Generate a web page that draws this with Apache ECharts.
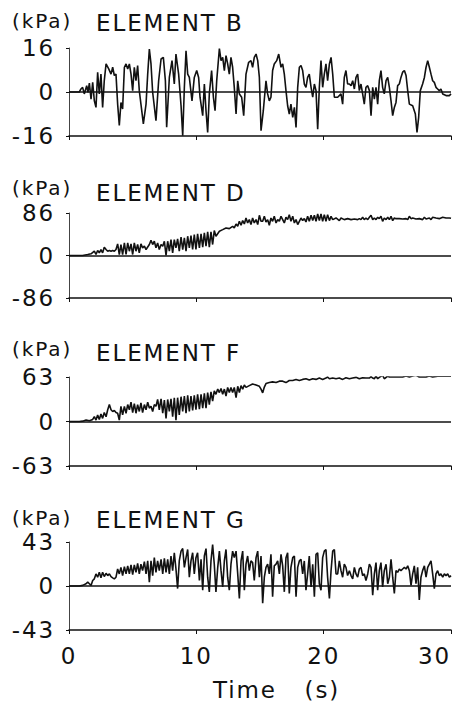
<!DOCTYPE html>
<html>
<head>
<meta charset="utf-8">
<script src="https://cdn.jsdelivr.net/npm/echarts@6/dist/echarts.min.js"></script>
<style>
  html, body { margin: 0; padding: 0; background: #fff; }
  #chart { width: 459px; height: 709px; }
  #chart text { letter-spacing: 1.9px; }
</style>
</head>
<body>
<div id="chart"></div>
<script>
// pressure histories, [time (s), pressure (kPa)]
const elementB = [
  [0,0],[0.81,0],[0.94,1.1],[1.07,1.7],[1.2,-0.7],[1.39,2.3],[1.49,-0.1],[1.6,3.2],[1.73,-2.6],[1.86,3.5],
  [1.99,-3.2],[2.12,-5.6],[2.25,7.2],[2.38,-0.7],[2.51,6.5],[2.64,-5.6],[2.77,4.1],[2.91,10.2],[3.12,8.4],[3.3,6.5],
  [3.43,9],[3.56,6],[3.69,6.5],[3.82,-4.4],[3.95,-12.2],[4.08,-3.8],[4.21,-6.2],[4.35,9],[4.48,10.2],[4.61,8.4],
  [4.74,10.2],[4.87,6.5],[5,0.5],[5.13,9],[5.26,4.1],[5.39,9.6],[5.52,0.5],[5.65,-4.4],[5.84,-11.6],[6.05,-4.4],
  [6.18,6.5],[6.31,15.6],[6.44,10.2],[6.57,-0.1],[6.83,-10.4],[7.04,4.1],[7.23,12],[7.41,12.6],[7.57,4.1],[7.67,-12.8],
  [7.88,5.3],[8.09,11.4],[8.27,2.9],[8.4,13.8],[8.61,6.5],[8.8,-5],[8.93,-15.9],[9.06,1.7],[9.19,15],[9.32,6.5],
  [9.45,5.3],[9.66,-3.2],[9.84,5.3],[10.03,7.8],[10.18,5.3],[10.29,-1.9],[10.5,-8.6],[10.63,2.9],[10.76,-6.8],[10.89,-14.7],
  [11.02,-0.7],[11.2,7.8],[11.34,-1.9],[11.47,-6.8],[11.6,4.1],[11.81,15.8],[11.94,11.4],[12.07,12.6],[12.2,7.8],[12.33,13.2],
  [12.46,10.2],[12.59,6.5],[12.72,12.6],[12.85,9],[12.98,1.7],[13.12,-8],[13.25,4.1],[13.38,-0.7],[13.56,-1.9],[13.72,-8.6],
  [13.9,6.5],[14.11,10.8],[14.29,11.4],[14.42,9],[14.55,12.6],[14.69,13.8],[14.82,11.4],[14.95,5.3],[15.08,-14.1],[15.26,-6.8],
  [15.47,4.1],[15.6,-0.7],[15.73,-3.2],[15.86,-1.9],[15.99,7.8],[16.12,10.2],[16.31,11.4],[16.47,13.8],[16.65,9],[16.78,10.2],
  [16.91,6.5],[17.04,0.5],[17.17,-5],[17.3,-8],[17.43,-4.4],[17.57,-9.2],[17.7,-5.6],[17.83,-12.9],[17.96,1.7],[18.09,9],
  [18.22,9.6],[18.35,7.8],[18.48,2.9],[18.61,1.7],[18.74,5.3],[18.87,6.5],[19.01,1.7],[19.14,-1.9],[19.27,2.9],[19.4,0.5],
  [19.53,-13.5],[19.66,1.7],[19.79,11.4],[19.92,1.7],[20.05,6.5],[20.18,10.2],[20.31,4.1],[20.45,10.2],[20.58,12.6],[20.71,6.5],
  [20.84,-1.9],[21.1,-1.9],[21.36,-0.7],[21.49,-4.4],[21.62,5.3],[21.75,7.8],[21.88,2.9],[22.02,2.9],[22.15,2.3],[22.28,4.1],
  [22.41,1.1],[22.54,5.3],[22.67,6.5],[22.8,0.5],[22.93,2.9],[23.06,-0.7],[23.19,-4.4],[23.32,1.7],[23.46,2.3],[23.59,0.5],
  [23.72,-8.6],[23.85,1.7],[23.98,-2.6],[24.11,1.7],[24.24,-4.4],[24.37,4.1],[24.5,7.8],[24.63,1.7],[24.76,-0.7],[24.9,4.1],
  [25.03,5.3],[25.16,1.7],[25.29,-3.2],[25.42,-8.6],[25.55,-5.6],[25.68,-3.8],[25.81,2.3],[25.94,2.9],[26.07,5.3],[26.2,7.2],
  [26.34,7.8],[26.47,6],[26.6,0.5],[26.73,-4.4],[26.99,-5],[27.2,-8],[27.33,-14.7],[27.46,-9.2],[27.59,0.5],[27.77,2.9],
  [27.91,5.3],[28.04,9],[28.17,11.4],[28.3,9],[28.43,6.5],[28.56,4.1],[28.69,3.5],[28.82,1.7],[28.95,1.1],[29.08,0.5],
  [29.21,1.1],[29.35,-0.7],[29.61,-1.3],[29.87,-1.3],[30,-0.7]
];

const elementD = [
  [0,0],[1.07,0],[1.47,2],[1.73,3.4],[1.99,8.7],[2.12,2],[2.25,10.1],[2.38,5.4],[2.51,12.1],[2.64,5.4],
  [2.77,16.8],[2.91,12.1],[3.04,8.7],[3.17,10.1],[3.3,8.7],[3.43,10.1],[3.56,8.7],[3.69,12.1],[3.82,23.5],[3.95,2],
  [4.08,22.2],[4.21,2],[4.35,25.5],[4.48,2],[4.61,25.5],[4.74,8.7],[4.87,23.5],[5,2],[5.13,25.5],[5.26,8.7],
  [5.39,22.2],[5.52,5.4],[5.65,23.5],[5.78,15.5],[5.92,18.8],[6.05,12.1],[6.31,22.2],[6.44,30.9],[6.57,22.2],[6.7,28.9],
  [6.83,15.5],[6.96,25.5],[7.09,12.1],[7.23,22.2],[7.36,18.8],[7.49,28.9],[7.62,0],[7.75,28.9],[7.88,8.7],[8.01,32.3],
  [8.14,5.4],[8.27,32.3],[8.4,15.5],[8.53,33.6],[8.66,8.7],[8.8,37],[8.93,12.1],[9.06,35.6],[9.19,8.7],[9.32,39],
  [9.45,15.5],[9.58,40.3],[9.71,12.1],[9.84,42.3],[9.97,12.1],[10.1,43.7],[10.24,15.5],[10.37,43.7],[10.5,16.8],[10.63,45.7],
  [10.76,18.8],[10.89,47.7],[11.02,16.8],[11.15,47.7],[11.28,22.2],[11.41,50.4],[11.54,39],[11.81,49.1],[12.07,52.4],[12.33,55.8],
  [12.59,54.4],[12.85,59.1],[12.98,55.8],[13.12,63.8],[13.25,59.1],[13.38,69.2],[13.51,61.2],[13.64,70.6],[13.77,63.8],[13.9,75.9],
  [14.03,65.9],[14.16,72.6],[14.29,62.5],[14.42,75.9],[14.55,65.9],[14.69,72.6],[14.82,62.5],[14.95,81.3],[15.08,69.2],[15.21,69.2],
  [15.34,79.3],[15.47,67.9],[15.6,72.6],[15.73,61.2],[15.86,75.9],[15.99,69.2],[16.12,79.3],[16.26,65.9],[16.39,72.6],[16.52,69.2],
  [16.65,79.3],[16.78,72.6],[16.91,65.9],[17.04,77.3],[17.17,72.6],[17.3,82.7],[17.43,69.2],[17.57,79.3],[17.7,65.9],[17.83,72.6],
  [17.96,62.5],[18.09,69.2],[18.22,75.9],[18.35,70.6],[18.48,74.6],[18.61,67.9],[18.74,79.3],[18.87,69.2],[19.01,81.3],[19.14,70.6],
  [19.27,81.3],[19.4,69.2],[19.53,84],[19.66,70.6],[19.79,84],[19.92,69.2],[20.05,82.7],[20.18,69.2],[20.31,82.7],[20.45,70.6],
  [20.58,79.3],[20.71,72.6],[20.97,75.9],[21.23,70.6],[21.36,75.9],[21.62,72.6],[21.88,74.6],[22.15,72.6],[22.41,73.9],[22.67,72.6],
  [22.8,74.6],[22.93,72.6],[23.06,77.3],[23.19,72.6],[23.32,75.9],[23.46,72.6],[23.59,77.3],[23.72,81.3],[23.85,72.6],[23.98,75.9],
  [24.11,72.6],[24.24,77.3],[24.37,74.6],[24.5,79.3],[24.63,69.2],[24.76,75.9],[24.9,72.6],[25.03,77.3],[25.16,72.6],[25.29,79.3],
  [25.42,70.6],[25.55,75.9],[25.68,74.6],[25.94,74.6],[26.2,73.9],[26.47,74.6],[26.6,72.6],[26.73,79.3],[26.86,74.6],[26.99,75.9],
  [27.25,73.9],[27.51,74.6],[27.77,72.6],[27.91,77.3],[28.04,73.9],[28.3,75.9],[28.43,72.6],[28.56,77.3],[28.82,75.9],[29.08,74.6],
  [29.35,77.3],[29.61,75.9],[29.87,75.9],[30,75.2]
];

const elementF = [
  [0,0],[0.81,0],[1.07,0.5],[1.34,2],[1.6,1],[1.86,2.9],[1.99,6.8],[2.12,2],[2.25,9.3],[2.38,2.9],
  [2.51,10.7],[2.64,4.4],[2.77,12.7],[2.91,6.8],[3.04,16.6],[3.17,23.9],[3.3,16.6],[3.43,14.2],[3.56,15.6],[3.69,12.7],
  [3.82,11.7],[3.95,2],[4.08,21.5],[4.21,9.3],[4.35,21.5],[4.48,11.7],[4.61,23.9],[4.74,16.6],[4.87,27.3],[5,12.7],
  [5.13,25.4],[5.26,11.7],[5.39,23.9],[5.52,14.2],[5.65,26.4],[5.78,12.7],[5.92,23.9],[6.05,16.6],[6.18,27.3],[6.31,19],
  [6.44,21.5],[6.57,14.2],[6.7,23.9],[6.83,21.5],[6.96,31.2],[7.09,16.6],[7.23,32.2],[7.36,11.7],[7.49,30.3],[7.62,4.4],
  [7.75,31.2],[7.88,14.2],[8.01,32.2],[8.14,6.8],[8.27,33.7],[8.4,2],[8.53,33.7],[8.66,9.3],[8.8,35.1],[8.93,14.2],
  [9.06,36.1],[9.19,11.7],[9.32,37.1],[9.45,14.2],[9.58,36.1],[9.71,15.6],[9.84,37.1],[9.97,16.6],[10.1,38.5],[10.24,17.6],
  [10.37,38.5],[10.5,19],[10.63,40],[10.76,19],[10.89,41],[11.02,23.9],[11.15,42],[11.28,28.8],[11.41,43.4],[11.54,38.5],
  [11.68,45.9],[11.81,41],[11.94,46.8],[12.07,38.5],[12.2,45.9],[12.33,36.1],[12.46,48.3],[12.59,41],[12.72,48.3],[12.85,41],
  [12.98,48.3],[13.12,33.7],[13.25,49.8],[13.38,41],[13.51,50.8],[13.64,45.9],[13.77,51.7],[13.9,48.3],[14.16,50.8],[14.42,53.2],
  [14.69,51.7],[14.95,49.8],[15.08,45.9],[15.21,40.5],[15.34,48.8],[15.47,53.7],[15.73,55.1],[15.99,56.1],[16.26,55.1],[16.52,57.1],
  [16.78,57.1],[17.04,55.1],[17.3,58.1],[17.57,58.1],[17.83,59.6],[18.09,58.1],[18.35,59.6],[18.61,60.5],[18.87,58.6],[19.14,60.5],
  [19.4,59.6],[19.66,61.5],[19.92,59.6],[20.18,61.5],[20.31,63],[20.45,60.5],[20.71,61.5],[20.97,60.5],[21.23,61.5],[21.49,59.6],
  [21.75,62],[22.02,60.5],[22.28,61.5],[22.54,62.5],[22.8,60.5],[23.06,62],[23.32,61.5],[23.59,61.5],[23.72,63.4],[23.85,61.5],
  [23.98,60.5],[24.11,64.4],[24.24,60.5],[24.37,62.5],[24.63,65.4],[24.76,60.5],[25.03,64.4],[25.16,63],[25.68,63],[26.2,63],
  [26.47,64.4],[26.73,63],[26.99,64.4],[27.25,65.4],[27.51,63],[28.04,63],[28.3,64.4],[28.56,63],[29.08,64.4],[29.61,64],
  [30,64]
];

const elementG = [
  [0,0],[0.81,0],[1.07,0.6],[1.34,2.2],[1.47,3.8],[1.6,2.2],[1.73,0.6],[1.86,5.4],[1.99,7],[2.12,11.8],
  [2.25,8.6],[2.38,13.4],[2.51,8],[2.64,13.4],[2.77,9.2],[2.91,12.4],[3.04,10.2],[3.17,11.8],[3.3,9.2],[3.43,8],
  [3.56,7],[3.69,8.6],[3.82,16.6],[3.95,11.8],[4.08,18.2],[4.21,10.2],[4.35,18.8],[4.48,11.8],[4.61,19.7],[4.74,11.8],
  [4.87,20.7],[5,11.1],[5.13,20.7],[5.26,13.4],[5.39,22],[5.52,11.8],[5.65,21.3],[5.78,15],[5.92,23.9],[6.05,11.8],
  [6.18,24.5],[6.31,3.8],[6.44,24.5],[6.57,10.2],[6.7,27.7],[6.83,13.4],[6.96,24.5],[7.09,15],[7.23,26.1],[7.36,11.8],
  [7.49,27.1],[7.62,13.4],[7.75,26.1],[7.88,11.8],[8.01,29.3],[8.14,15],[8.27,32.5],[8.4,16.6],[8.53,-2.5],[8.66,24.5],
  [8.8,34.1],[8.93,36.6],[9.06,18.2],[9.19,27.7],[9.32,35.7],[9.45,8.6],[9.58,24.5],[9.71,32.5],[9.84,11.8],[9.97,27.7],
  [10.1,32.5],[10.24,5.4],[10.37,26.1],[10.5,-4.1],[10.63,29.3],[10.76,36.6],[10.89,8.6],[11.02,-5.7],[11.15,24.5],[11.28,40.4],
  [11.41,21.3],[11.54,-5.7],[11.68,18.2],[11.81,34.1],[11.94,15],[12.07,-1],[12.2,24.5],[12.33,35.7],[12.46,8.6],[12.59,-4.1],
  [12.72,21.3],[12.85,34.1],[12.98,27.7],[13.12,34.1],[13.25,11.8],[13.38,-12.1],[13.51,24.5],[13.64,34.1],[13.77,-4.1],[13.9,21.3],
  [14.03,29.3],[14.16,15],[14.29,24.5],[14.42,22.9],[14.55,5.4],[14.69,27.7],[14.82,34.1],[14.95,8.6],[15.08,29.3],[15.21,-16.9],
  [15.34,8.6],[15.47,18.2],[15.6,21.3],[15.73,11.8],[15.86,30.9],[15.99,-10.5],[16.12,19.7],[16.26,21.3],[16.39,24.5],[16.52,11.8],
  [16.65,30.9],[16.78,19.7],[16.91,-5.7],[17.04,27.7],[17.17,32.5],[17.3,-7.3],[17.43,18.2],[17.57,27.7],[17.7,29.3],[17.83,-10.5],
  [17.96,18.2],[18.09,24.5],[18.22,26.1],[18.35,11.8],[18.48,24.5],[18.61,-4.1],[18.74,11.8],[18.87,29.3],[19.01,-1],[19.14,21.3],
  [19.27,-10.5],[19.4,30.9],[19.53,32.5],[19.66,2.2],[19.79,-4.1],[19.92,27.7],[20.05,34.1],[20.18,35.7],[20.31,8.6],[20.45,-12.1],
  [20.58,15],[20.71,34.1],[20.84,35.7],[20.97,11.8],[21.1,11.8],[21.23,24.5],[21.36,15],[21.49,8.6],[21.62,21.3],[21.75,18.2],
  [21.88,10.2],[22.02,15],[22.15,10.2],[22.28,7],[22.41,18.2],[22.54,11.8],[22.67,8.6],[22.8,16.6],[22.93,18.2],[23.06,10.2],
  [23.19,11.8],[23.32,5.4],[23.46,11.8],[23.59,21.3],[23.72,18.2],[23.85,-8.9],[23.98,11.8],[24.11,22.9],[24.24,-4.1],[24.37,15],
  [24.5,22.9],[24.63,-1],[24.76,15],[24.9,21.3],[25.03,2.2],[25.16,8.6],[25.29,26.1],[25.42,8.6],[25.55,-7.3],[25.68,15],
  [25.81,13.4],[25.94,16.6],[26.07,15],[26.2,16.6],[26.34,18.2],[26.47,16.6],[26.6,19.7],[26.73,15],[26.86,0.6],[26.99,11.8],
  [27.12,19.7],[27.25,2.2],[27.38,18.2],[27.51,-13.7],[27.64,8.6],[27.77,15],[27.91,19.7],[28.04,8.6],[28.17,18.2],[28.3,21.3],
  [28.43,24.5],[28.56,11.8],[28.69,-2.5],[28.82,11.8],[28.95,15],[29.08,10.2],[29.21,11.8],[29.35,8.6],[29.48,11.8],[29.61,10.2],
  [29.74,11.8],[29.87,8.6],[30,10.2]
];

const elementNames = ['ELEMENT B', 'ELEMENT D', 'ELEMENT F', 'ELEMENT G'];
const axisLimits = [16, 86, 63, 43];
const timeTicks = [0, 10, 20, 30];

const seriesData = [elementB, elementD, elementF, elementG];

// panel layout (pixel positions)
const gridTops = [48, 213, 377, 542];
const gridHeights = [88, 85, 89, 88];
const titleTops = [11, 181, 341, 508];
const unitTops = [11, 178, 339, 508];

const font = 'DejaVu Sans';
const ink = '#111';

const chart = echarts.init(document.getElementById('chart'), null, { renderer: 'svg' });

const grids = [], xAxes = [], yAxes = [], series = [], titles = [];

seriesData.forEach((data, i) => {
  const lim = axisLimits[i];
  const last = i === seriesData.length - 1;
  grids.push({ left: 69, right: 8, top: gridTops[i], height: gridHeights[i] });
  xAxes.push({
    type: 'value',
    gridIndex: i,
    min: timeTicks[0],
    max: timeTicks[timeTicks.length - 1],
    interval: 10,
    axisLine: { onZero: false, lineStyle: { color: ink, width: 1.5 } },
    axisTick: { show: true, length: 4, lineStyle: { color: ink, width: 1 } },
    splitLine: { show: false },
    axisLabel: {
      show: last,
      color: ink,
      fontFamily: font,
      fontSize: 23,
      margin: 14,
      alignMaxLabel: 'right'
    }
  });
  yAxes.push({
    type: 'value',
    gridIndex: i,
    min: -lim,
    max: lim,
    interval: lim,
    axisLine: { show: true, lineStyle: { color: '#444', width: 1 } },
    axisTick: { show: true, length: 3, lineStyle: { color: ink } },
    splitLine: { show: false },
    axisLabel: { color: ink, fontFamily: font, fontSize: 23, margin: 14 }
  });
  series.push({
    type: 'line',
    xAxisIndex: i,
    yAxisIndex: i,
    data: data,
    showSymbol: false,
    silent: true,
    lineStyle: { color: ink, width: 1.6 },
    markLine: {
      silent: true,
      symbol: 'none',
      label: { show: false },
      lineStyle: { color: ink, width: 1.5, type: 'solid' },
      data: [{ yAxis: 0 }]
    }
  });
  titles.push({
    text: '(kPa)', left: 12, top: unitTops[i], padding: 0,
    textStyle: { fontFamily: font, fontSize: 20, fontWeight: 'normal', color: ink }
  });
  titles.push({
    text: elementNames[i], left: 96, top: titleTops[i], padding: 0,
    textStyle: { fontFamily: font, fontSize: 23, fontWeight: 'normal', color: ink }
  });
});

chart.setOption({
  animation: false,
  backgroundColor: '#fff',
  title: titles,
  grid: grids,
  xAxis: xAxes,
  yAxis: yAxes,
  series: series,
  graphic: [{
    type: 'text',
    left: 213,
    top: 678,
    style: { text: 'Time   (s)', fontFamily: font, fontSize: 23, fill: ink }
  }]
});
</script>
</body>
</html>
